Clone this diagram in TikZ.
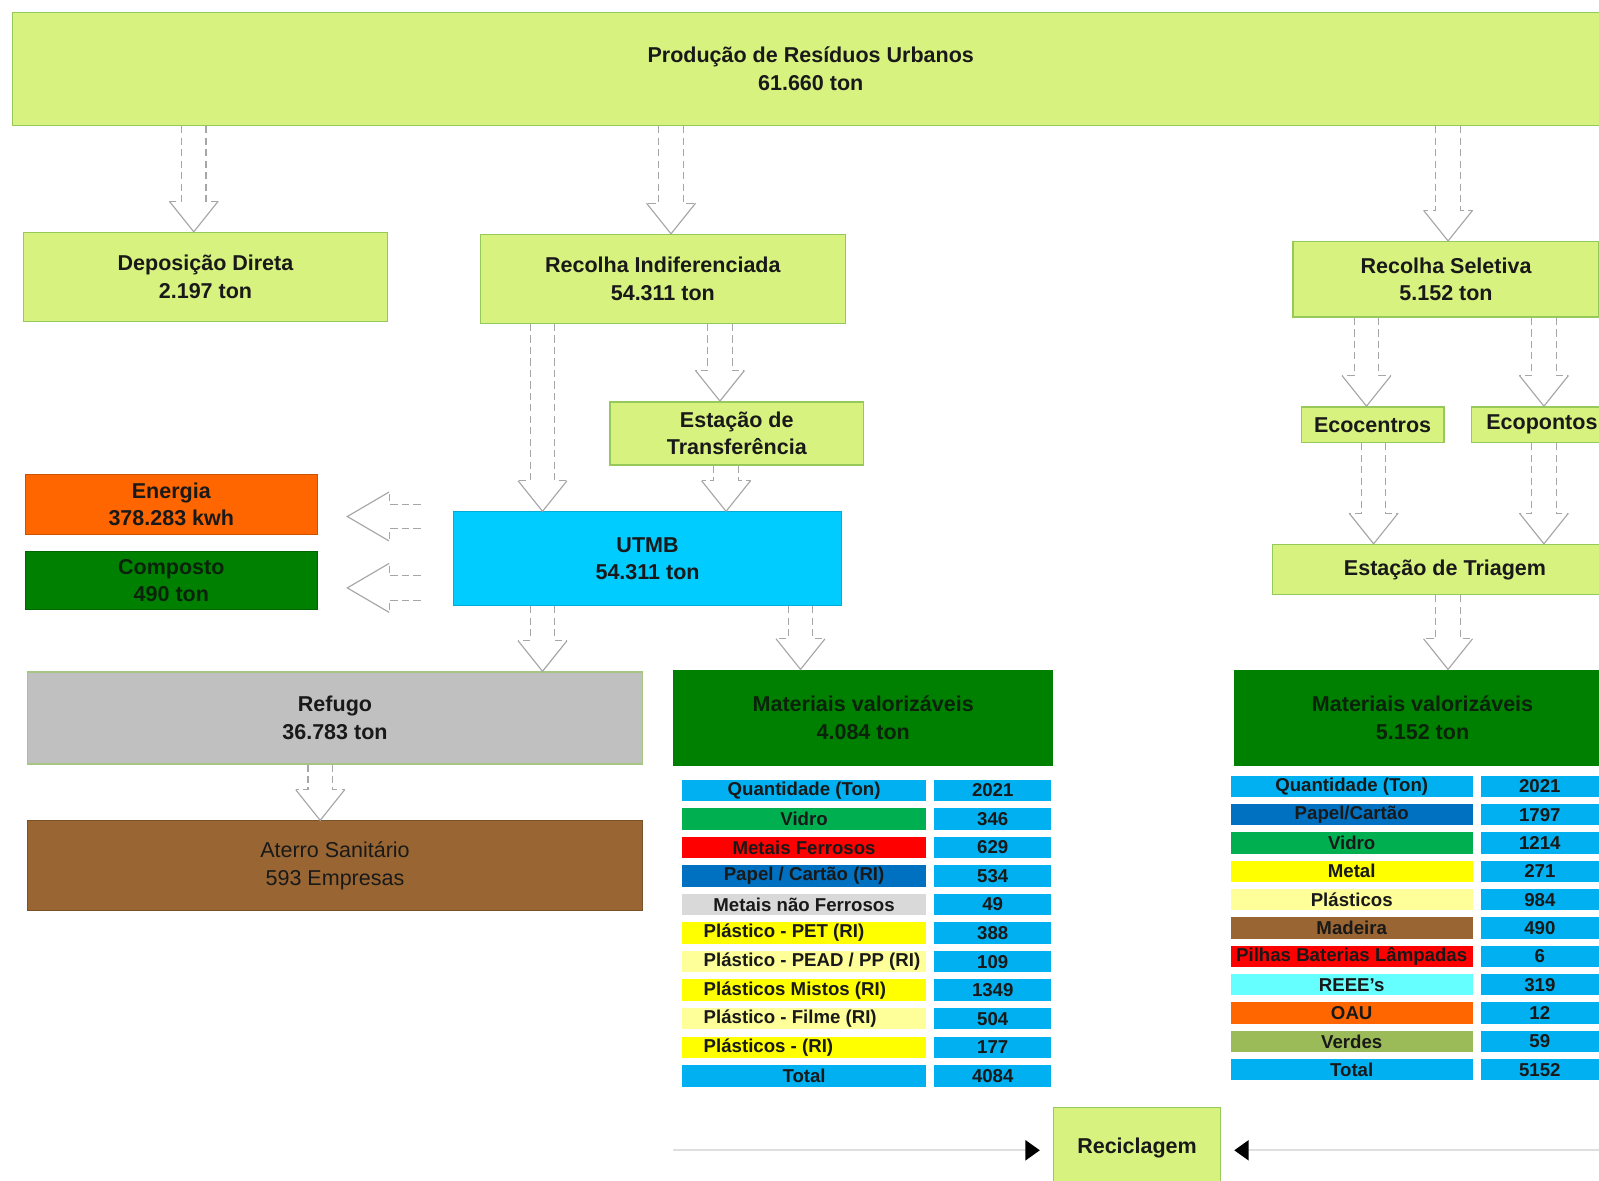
\documentclass[tikz,border=0pt]{standalone}
\usepackage{fontspec}
\setmainfont{Liberation Sans}
\usepackage{xcolor}
\usetikzlibrary{calc, arrows.meta}
\definecolor{lgreen}{RGB}{216,242,128}
\definecolor{lgreenline}{RGB}{150,200,90}
\definecolor{utmbcyan}{RGB}{0,204,255}
\definecolor{dgreen}{RGB}{0,128,0}
\definecolor{enorange}{RGB}{255,102,0}
\definecolor{refgray}{RGB}{192,192,192}
\definecolor{aterrobrown}{RGB}{153,102,51}
\definecolor{tblue}{RGB}{0,176,240}
\definecolor{tgreen}{RGB}{0,176,80}
\definecolor{tred}{RGB}{255,0,0}
\definecolor{tdblue}{RGB}{0,112,192}
\definecolor{tgray}{RGB}{217,217,217}
\definecolor{tyellow}{RGB}{255,255,0}
\definecolor{tlyellow}{RGB}{255,255,153}
\definecolor{tcyan}{RGB}{102,255,255}
\definecolor{tolive}{RGB}{155,187,89}
\definecolor{darktext}{RGB}{25,25,25}
\definecolor{greentext}{RGB}{10,35,10}
\newcommand{\pxu}{0.0125cm}
\newcommand{\lft}[1]{\makebox[2.46cm][l]{#1}} % left aligned plastic rows
\tikzset{
x=0.0125cm, y=-0.0125cm, % one unit is one pixel of the scan, y grows downwards
box/.style 2 args={rectangle, minimum width=#1*\pxu, minimum height=#2*\pxu, inner sep=0pt, align=center, text=darktext, font=\bfseries\fontsize{7.5}{9.6}\selectfont},
greenbox/.style={fill=lgreen, draw=lgreenline, line width=0.5pt},
cell/.style={fill=#1, minimum height=21*\pxu, inner sep=0pt, text=darktext, font=\bfseries\fontsize{6.5}{7.5}\selectfont}, % one table cell
flowdash/.style={draw=gray!70, line width=0.4pt, dash pattern=on 2.5pt off 1.5pt}, % shaft of the hollow arrows
flowhead/.style={draw=gray!70, line width=0.4pt},
recline/.style={draw=gray!25, line width=0.6pt, -{Triangle[black, length=5pt, width=7pt]}, shorten >=4.5pt},
}
% hollow block arrow: [head length] {start} {end}
\newcommand{\flow}[3][30]{%
  \coordinate (fS) at #2;
  \coordinate (fE) at #3;
  \coordinate (fH) at ($(fE)!#1*\pxu!(fS)$);
  \draw[flowdash] ($(fS)!12*\pxu!90:(fE)$) -- ($(fH)!12*\pxu!90:(fE)$) -- ($(fH)!24*\pxu!90:(fE)$);
  \draw[flowdash] ($(fS)!12*\pxu!-90:(fE)$) -- ($(fH)!12*\pxu!-90:(fE)$) -- ($(fH)!24*\pxu!-90:(fE)$);
  \draw[flowhead] ($(fH)!24*\pxu!90:(fE)$) -- (fE) -- ($(fH)!24*\pxu!-90:(fE)$);
}

\begin{document}
\begin{tikzpicture}
    \useasboundingbox (0,0) rectangle (1568,1158);
    \clip (0,0) rectangle (1568,1158);

    % boxes
    \node[box={1566}{111}, greenbox] (prod) at (795,67.5) {Produção de Resíduos Urbanos\\61.660 ton};
    \node[box={357}{87}, greenbox] (dep) at (201.5,271.5) {Deposição Direta\\2.197 ton};
    \node[box={358}{87}, greenbox] (recind) at (650,273.5) {Recolha Indiferenciada\\54.311 ton};
    \node[box={300}{74}, greenbox] (recsel) at (1418,274) {Recolha Seletiva\\5.152 ton};
    \node[box={249}{62}, greenbox] (transf) at (722.5,425) {Estação de\\Transferência};
    \node[box={140}{35}, greenbox] (ecoc) at (1346,416.5) {Ecocentros};
    \node[box={138}{35}, greenbox] (ecop) at (1512,416.5) {Ecopontos};
    \node[box={338}{49}, greenbox] (triag) at (1417,558.5) {Estação de Triagem};
    \node[box={286}{59}, fill=enorange, draw=enorange!80!black] (energia) at (168,494.5) {Energia\\378.283 kwh};
    \node[box={286}{57}, fill=dgreen, draw=dgreen!80!black, text=greentext] (composto) at (168,569.5) {Composto\\490 ton};
    \node[box={380}{92}, fill=utmbcyan, draw=utmbcyan!85!black, line width=0.4pt] (utmb) at (635,548) {UTMB\\54.311 ton};
    \node[box={603}{90}, fill=refgray, draw=lgreenline!60!refgray, line width=0.5pt] (refugo) at (328.5,704) {Refugo\\36.783 ton};
    \node[box={603}{88}, fill=aterrobrown, draw=aterrobrown!80!black, line width=0.4pt, font=\fontsize{7.5}{9.6}\selectfont] (aterro) at (328.5,849) {Aterro Sanitário\\593 Empresas};
    \node[box={373}{94}, fill=dgreen, text=greentext] (matl) at (846.5,704) {Materiais valorizáveis\\4.084 ton};
    \node[box={370}{94}, fill=dgreen, text=greentext] (matr) at (1395,704) {Materiais valorizáveis\\5.152 ton};
    \node[box={164}{80}, greenbox] (recic) at (1115,1126) {Reciclagem};

    % tables
    \foreach \lab/\col/\val [count=\i from 0] in {
        {Quantidade (Ton)}/tblue/2021,
        Vidro/tgreen/346,
        {Metais Ferrosos}/tred/629,
        {Papel / Cartão (RI)}/tdblue/534,
        {Metais não Ferrosos}/tgray/49,
        {\lft{Plástico - PET (RI)}}/tyellow/388,
        {\lft{Plástico - PEAD / PP (RI)}}/tlyellow/109,
        {\lft{Plásticos Mistos (RI)}}/tyellow/1349,
        {\lft{Plástico - Filme (RI)}}/tlyellow/504,
        {\lft{Plásticos - (RI)}}/tyellow/177,
        Total/tblue/4084}
    {
        \node[cell=\col, minimum width=239*\pxu] (ml\i) at (788.5,775+28*\i) {\lab};
        \node[cell=tblue, minimum width=115*\pxu] (mlv\i) at (973.5,775+28*\i) {\val};
    }
    \foreach \lab/\col/\val [count=\i from 0] in {
        {Quantidade (Ton)}/tblue/2021,
        {Papel/Cartão}/tdblue/1797,
        Vidro/tgreen/1214,
        Metal/tyellow/271,
        Plásticos/tlyellow/984,
        Madeira/aterrobrown/490,
        {Pilhas Baterias Lâmpadas}/tred/6,
        {REEE's}/tcyan/319,
        OAU/enorange/12,
        Verdes/tolive/59,
        Total/tblue/5152}
    {
        \node[cell=\col, minimum width=237*\pxu] (mr\i) at (1325.5,771+27.8*\i) {\lab};
        \node[cell=tblue, minimum width=116*\pxu] (mrv\i) at (1510,771+27.8*\i) {\val};
    }

    % arrow columns
    \coordinate (cDep) at (190,0);
    \coordinate (cInd) at (658,0);
    \coordinate (cSel) at (1420,0);
    \coordinate (cUt) at (532,0);
    \coordinate (cTr) at (706,0);
    \coordinate (cTr2) at (712,0);
    \coordinate (cMl) at (785,0);
    \coordinate (cRef) at (314,0);
    \coordinate (cEc) at (1340,0);
    \coordinate (cEp) at (1514,0);
    \coordinate (cEc2) at (1347,0);

    \flow{(prod.south -| cDep)}{(dep.north -| cDep)}
    \flow{(prod.south -| cInd)}{(recind.north -| cInd)}
    \flow{(prod.south -| cSel)}{(recsel.north -| cSel)}
    \flow{(recind.south -| cUt)}{(utmb.north -| cUt)}
    \flow{(recind.south -| cTr)}{(transf.north -| cTr)}
    \flow{(transf.south -| cTr2)}{(utmb.north -| cTr2)}
    \flow[41]{($(utmb.west |- energia.east)+(-32,12)$)}{($(energia.east)+(29,12)$)}
    \flow[41]{($(utmb.west |- composto.east)+(-32,7)$)}{($(composto.east)+(29,7)$)}
    \flow{(utmb.south -| cUt)}{(refugo.north -| cUt)}
    \flow{(utmb.south -| cMl)}{(matl.north -| cMl)}
    \flow{(refugo.south -| cRef)}{(aterro.north -| cRef)}
    \flow{(recsel.south -| cEc)}{(ecoc.north -| cEc)}
    \flow{(recsel.south -| cEp)}{(ecop.north -| cEp)}
    \flow{(ecoc.south -| cEc2)}{(triag.north -| cEc2)}
    \flow{(ecop.south -| cEp)}{(triag.north -| cEp)}
    \flow{(triag.south -| cSel)}{(matr.north -| cSel)}

    % to Reciclagem
    \coordinate (rl) at (660,1128);
    \coordinate (rr) at (1568,1128);
    \draw[recline] (rl) -- (rl -| recic.west);
    \draw[recline] (rr) -- (rr -| recic.east);
\end{tikzpicture}
\end{document}
